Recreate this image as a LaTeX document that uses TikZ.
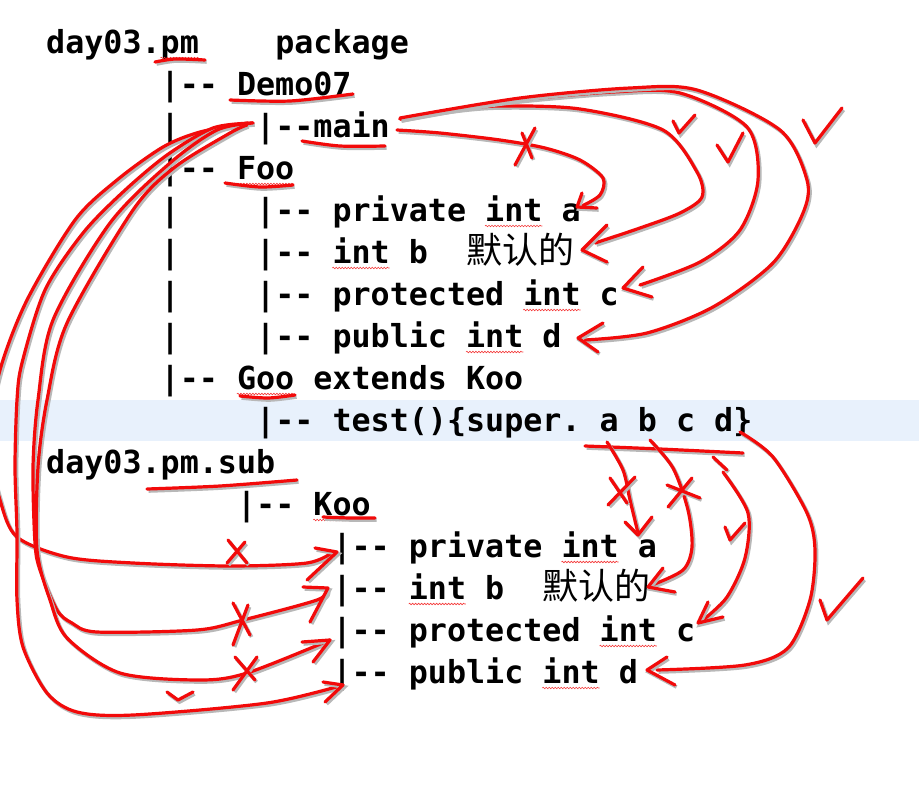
\documentclass[tikz,border=0pt]{standalone}
\usepackage{fontspec}
\setmonofont{DejaVu Sans Mono}
\newfontfamily\cjk{Noto Sans CJK SC}
\usetikzlibrary{decorations.pathmorphing}

\begin{document}
\begin{tikzpicture}[x=1pt,y=-1pt]
  \definecolor{inkred}{HTML}{F20A0A}
  \definecolor{rowblue}{HTML}{E8F1FC}
  \def\cw{19.09}
  \tikzset{
    codeline/.style={anchor=base west,inner sep=0pt,font=\fontsize{31.7}{38}\selectfont\ttfamily\bfseries\frenchspacing},
    hanzi/.style={anchor=base west,inner sep=0pt,font=\fontsize{36}{40}\selectfont\cjk},
    redink/.style={draw=inkred,line width=3.2pt,line cap=round,line join=round,
      preaction={draw=black!28,line width=3.6pt,transform canvas={shift={(1.6pt,-2pt)}}}},
    squig/.style={draw=inkred!80,line width=0.6pt,decorate,
      decoration={snake,amplitude=0.8pt,segment length=3pt}},
  }
  \useasboundingbox (0,0) rectangle (919,801);
  \fill[white] (0,0) rectangle (919,801);
  \fill[rowblue] (0,400) rectangle (919,441);

  % package day03.pm
  \node[codeline] (pm) at (46,53) {day03.pm};
  \node[codeline] (pkg) at ({46+12*\cw},53) {package};
  \node[codeline] (demo) at ({46+6*\cw},95) {|-{}- Demo07};
  \foreach \y in {137,221,263,305,347}
    \node[codeline] (bar\y) at ({46+6*\cw},\y) {|};
  \node[codeline] (mainl) at ({46+11*\cw},137) {|-{}-main};
  \node[codeline] (foo) at ({46+6*\cw},179) {|-{}- Foo};
  \node[codeline] (fooa) at ({46+11*\cw},221) {|-{}- private int a};
  \node[codeline] (foob) at ({46+11*\cw},263) {|-{}- int b};
  \node[hanzi] (foobcn) at ({46+22*\cw},263) {默认的};
  \node[codeline] (fooc) at ({46+11*\cw},305) {|-{}- protected int c};
  \node[codeline] (food) at ({46+11*\cw},347) {|-{}- public int d};
  \node[codeline] (goo) at ({46+6*\cw},389) {|-{}- Goo extends Koo};
  \node[codeline] (test) at ({46+11*\cw},431) {|-{}- test()\{super. a b c d\}};

  % package day03.pm.sub
  \node[codeline] (sub) at (46,473) {day03.pm.sub};
  \node[codeline] (koo) at ({46+10*\cw},515) {|-{}- Koo};
  \node[codeline] (kooa) at ({46+15*\cw},557) {|-{}- private int a};
  \node[codeline] (koob) at ({46+15*\cw},599) {|-{}- int b};
  \node[hanzi] (koobcn) at ({46+26*\cw},599) {默认的};
  \node[codeline] (kooc) at ({46+15*\cw},641) {|-{}- protected int c};
  \node[codeline] (kood) at ({46+15*\cw},683) {|-{}- public int d};

  % spell check marks
  \foreach \c/\n/\y in {6/2/53,10/3/179,10/3/389,14/3/515,23/3/221,15/3/263,25/3/305,22/3/347,27/3/557,19/3/599,29/3/641,26/3/683}
    \draw[squig] ({46+\c*\cw},{\y+5}) -- ({46+(\c+\n)*\cw},{\y+5});

  % underlines
  \draw[redink] plot[smooth] coordinates {(155,62) (175,59) (205,60)};
  \draw[redink] plot[smooth] coordinates {(230,100) (290,101) (353,94)};
  \draw[redink] plot[smooth] coordinates {(302,141) (340,146) (385,146)};
  \draw[redink] plot[smooth] coordinates {(225,183) (260,187) (293,185)};
  \draw[redink] plot[smooth] coordinates {(240,396) (268,398) (295,395)};
  \draw[redink] plot[smooth] coordinates {(147,489) (220,486) (297,480)};
  \draw[redink] plot[smooth] coordinates {(323,517) (350,518) (375,518)};

  % main -> Foo
  \draw[redink] plot[smooth] coordinates {(397,130) (440,133) (500,140) (545,148) (580,160) (603,178) (600,195) (582,206)};
  \draw[redink] (582,193) -- (577,207) -- (597,208);
  \draw[redink] (515,165) -- (535,128) (522,133) -- (532,158);
  \draw[redink] plot[smooth] coordinates {(400,119) (450,110) (500,106) (580,109) (663,130) (697,172) (702,197) (680,213) (640,228) (595,243)};
  \draw[redink] (607,225) -- (582,250) -- (607,262);
  \draw[redink] (673,121) -- (679,133) -- (695,115);
  \draw[redink] plot[smooth] coordinates {(400,119) (500,102) (613,92) (680,93) (747,127) (758,180) (740,230) (700,262) (640,285)};
  \draw[redink] (643,267) -- (623,288) -- (652,297);
  \draw[redink] (717,145) -- (728,162) -- (743,133);
  \draw[redink] plot[smooth] coordinates {(400,118) (520,98) (630,88) (697,90) (780,130) (807,180) (803,213) (773,263) (713,307) (647,333) (585,340)};
  \draw[redink] (603,323) -- (578,338) -- (598,352);
  \draw[redink] (803,120) -- (815,143) -- (842,108);

  % main -> Koo
  \draw[redink] plot[smooth] coordinates {(248,123) (200,132) (163,147) (117,180) (75,220) (27,300) (0,370) (-12,440) (0,500) (17,537) (67,557) (133,563) (230,566) (307,563) (333,552)};
  \draw[redink] (315,548) -- (337,552) -- (307,580);
  \draw[redink] (228,540) -- (247,563) (245,542) -- (227,563);
  \draw[redink] plot[smooth] coordinates {(253,123) (213,128) (167,155) (123,192) (83,233) (45,290) (22,363) (17,400) (15,467) (17,533) (17,600) (23,647) (47,693) (77,712) (133,715) (267,703) (343,685)};
  \draw[redink] (323,682) -- (343,685) -- (325,702);
  \draw[redink] (167,692) -- (178,700) -- (193,692);
  \draw[redink] plot[smooth] coordinates {(253,123) (217,130) (170,163) (110,223) (53,320) (38,400) (33,467) (35,543) (40,570) (57,610) (72,623) (97,632) (197,630) (243,620) (317,600) (327,590)};
  \draw[redink] (303,587) -- (328,588) -- (310,622);
  \draw[redink] (233,603) -- (250,635) (248,605) -- (233,645);
  \draw[redink] plot[smooth] coordinates {(247,125) (230,133) (175,167) (133,210) (67,323) (47,400) (38,467) (37,550) (50,600) (67,638) (120,673) (200,680) (247,673) (330,640)};
  \draw[redink] (302,642) -- (330,640) -- (313,662);
  \draw[redink] (235,657) -- (255,680) (257,657) -- (233,690);

  % super -> Koo
  \draw[redink] plot[smooth] coordinates {(585,446) (660,449) (743,453)};
  \draw[redink] plot[smooth] coordinates {(607,442) (623,470) (630,500) (638,533)};
  \draw[redink] (625,522) -- (638,535) -- (652,517);
  \draw[redink] (610,478) -- (627,503) (635,477) -- (608,505);
  \draw[redink] plot[smooth] coordinates {(650,440) (673,468) (688,510) (692,547) (683,570) (652,585)};
  \draw[redink] (663,568) -- (648,587) -- (675,592);
  \draw[redink] (667,485) -- (700,498) (692,478) -- (668,507);
  \draw[redink] (713,457) -- (727,470);
  \draw[redink] plot[smooth] coordinates {(723,472) (748,513) (745,558) (727,597) (703,620)};
  \draw[redink] (708,602) -- (698,623) -- (723,617);
  \draw[redink] (725,527) -- (730,540) -- (745,523);
  \draw[redink] plot[smooth] coordinates {(740,432) (773,457) (807,513) (815,550) (810,600) (788,648) (745,665) (657,670)};
  \draw[redink] (667,657) -- (647,670) -- (675,685);
  \draw[redink] (820,600) -- (827,620) -- (863,578);
\end{tikzpicture}
\end{document}
